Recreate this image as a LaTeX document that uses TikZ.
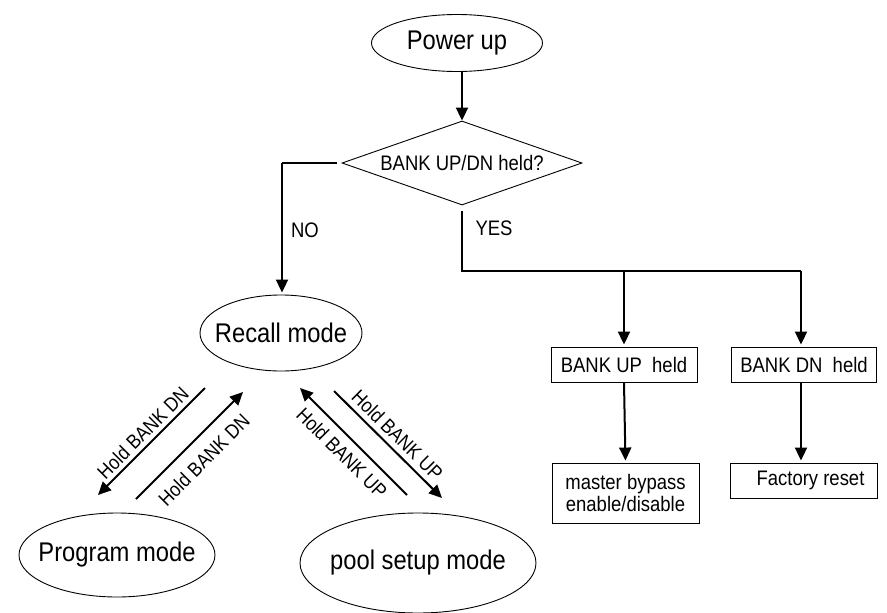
\documentclass[tikz,border=0pt]{standalone}
\usepackage{fontspec}
\setmainfont{Liberation Sans}[FakeStretch=0.88]
\usetikzlibrary{
    arrows.meta,
    positioning,
    shapes.geometric
}
\newcommand{\ovaltxt}[1]{\makebox[0pt]{#1}}

\begin{document}
\begin{tikzpicture}[x=1pt,y=-1pt,
    mode/.style={ellipse, draw, line width=0.9pt, inner sep=0pt, font=\fontsize{27}{31}\selectfont},
    choice/.style={diamond, draw, line width=0.9pt, inner sep=0pt, aspect=2.85,
        minimum width=240pt, minimum height=84pt, font=\fontsize{21}{24}\selectfont},
    stepbox/.style={rectangle, draw, line width=0.9pt, inner sep=0pt, minimum height=35pt,
        align=center, font=\fontsize{21}{22}\selectfont},
    wire/.style={line width=2pt},
    arr/.style={line width=2pt, -{Triangle[length=13pt,width=12pt]}, shorten >=2pt},
    tag/.style={font=\fontsize{21}{24}\selectfont},
    hold/.style={font=\fontsize{20}{22}\selectfont, sloped, inner sep=2pt}
]
    \useasboundingbox (0,0) rectangle (887,613);

    % top of the chart
    \node[mode, minimum width=171pt, minimum height=57pt] (power) at (457,43) {\ovaltxt{Power up}};
    \node[choice] (held) at (462,163) {BANK UP/DN held?};
    \draw[arr, shorten >=0pt] (held.north |- power.south) -- (held.north);

    % modes
    \node[mode, minimum width=162pt, minimum height=76pt] (recall) at (281,333) {\ovaltxt{Recall mode}};
    \node[mode, minimum width=196pt, minimum height=84pt] (program) at (117,555) {\ovaltxt{Program mode}};
    \node[mode, minimum width=236pt, minimum height=100pt] (pool) at (418,563) {\ovaltxt{pool setup mode}};

    % boxes on the right
    \node[stepbox, minimum width=146pt] (upheld) at (624,364.5) {BANK UP~ held};
    \node[stepbox, minimum width=145pt] (dnheld) at (804,364.5) {BANK DN~ held};
    \node[stepbox, minimum width=147pt, minimum height=60pt] (bypass) at (625.5,493) {master bypass\\enable/disable};
    \node[stepbox, minimum width=147pt] (reset) at (803.5,480.5) {\hspace{14pt}Factory reset};

    % NO branch
    \coordinate (nobend) at (282,163);
    \draw[wire] ([xshift=-5pt]held.west) -- (nobend);
    \draw[arr] (nobend) -- (nobend |- recall.north);
    \node[tag] (no) at (305,230) {NO};

    % YES branch
    \coordinate (yesbend) at (462,271);
    \coordinate (dnbend) at (801,271);
    \draw[wire] ([yshift=-6pt]held.south) |- (dnbend);
    \draw[arr] (upheld.north |- yesbend) -- (upheld.north);
    \draw[arr] (dnbend) -- (dnbend |- dnheld.north);
    \node[tag, anchor=west] (yes) at (472,228) {YES};
    \draw[arr] (upheld.south) -- (bypass.north);
    \draw[arr] (dnbend |- dnheld.south) -- (dnbend |- reset.north);

    % mode changes
    \coordinate (dna) at (205,388);
    \coordinate (dnb) at (98,495);
    \coordinate (dnc) at (136,499);
    \coordinate (dnd) at (243,392);
    \coordinate (upa) at (407,495);
    \coordinate (upb) at (300,388);
    \coordinate (upc) at (334,391);
    \coordinate (upd) at (442,498);
    \draw[arr, shorten >=0pt] (dna) -- node[hold, above=2pt] (lbla) {Hold BANK DN} (dnb);
    \draw[arr, shorten >=0pt] (dnc) -- node[hold, below=10pt] (lblb) {Hold BANK DN} (dnd);
    \draw[arr, shorten >=0pt] (upa) -- node[hold, below=6pt] (lblc) {Hold BANK UP} (upb);
    \draw[arr, shorten >=0pt] (upc) -- node[hold, above=3pt] (lbld) {Hold BANK UP} (upd);
\end{tikzpicture}
\end{document}
